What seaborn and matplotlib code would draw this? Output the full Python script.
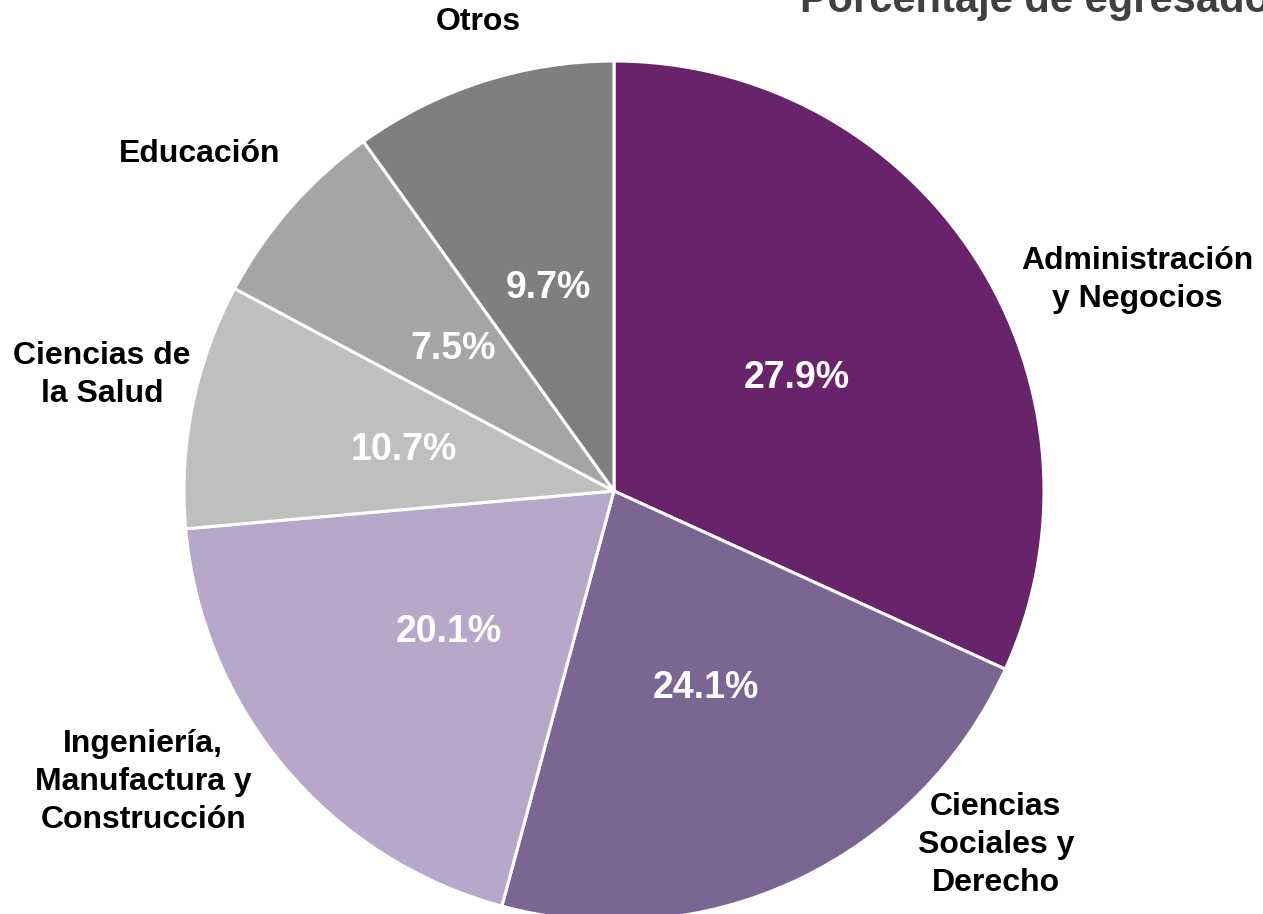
import matplotlib
matplotlib.use('Agg')
import matplotlib.pyplot as plt
import seaborn as sns

# Data
areas = ['Administración\ny Negocios', 'Ciencias\nSociales y\nDerecho',
         'Ingeniería,\nManufactura y\nConstrucción', 'Ciencias de\nla Salud',
         'Educación', 'Otros']
# wedge sizes as drawn (measured from the slice angles)
shares = [31.8, 22.4, 19.4, 9.2, 7.3, 9.9]
# percentages printed on the slices
pct_labels = ['27.9%', '24.1%', '20.1%', '10.7%', '7.5%', '9.7%']
colors = ['#69236A', '#7B6693', '#B7A8CA', '#BFBFBF', '#A5A5A5', '#7F7F7F']

# where Excel put the labels (data coords, radius = 1)
label_pos = [(1.216, 0.491), (0.888, -0.823), (-1.095, -0.677),
             (-1.191, 0.270), (-0.963, 0.784), (-0.316, 1.091)]
pct_pos = [(0.426, 0.263), (0.214, -0.458), (-0.384, -0.328),
           (-0.488, 0.095), (-0.374, 0.330), (-0.153, 0.472)]

sns.set_theme(style='white')
plt.rcParams['font.family'] = ['Liberation Sans', 'DejaVu Sans']

fig = plt.figure(figsize=(12.63, 9.14), dpi=100)
ax = fig.add_axes([184 / 1263, -7 / 914, 860 / 1263, 860 / 914])

wedges, texts, autotexts = ax.pie(shares, labels=areas, colors=colors, startangle=90,
                                  counterclock=False, autopct='%.1f%%',
                                  wedgeprops=dict(edgecolor='white', linewidth=2.2),
                                  textprops=dict(fontweight='bold'))
ax.set_xlim(-1, 1)
ax.set_ylim(-1, 1)
ax.set_aspect('equal')
ax.axis('off')

for t, p in zip(texts, label_pos):
    t.set_position(p)
    t.set_ha('center')
    t.set_va('center')
    t.set_fontsize(23)
    t.set_color('black')
    t.set_linespacing(1.35)
    t.set_clip_on(False)

for t, p, s in zip(autotexts, pct_pos, pct_labels):
    t.set_text(s)
    t.set_position(p)
    t.set_ha('center')
    t.set_va('center')
    t.set_fontsize(27)
    t.set_color('white')

fig.text(800 / 1263, (914 - 12) / 914, 'Porcentaje de egresados', fontsize=30,
         fontweight='bold', color='#404040', ha='left', va='baseline')

fig.savefig('out.png', dpi=100)
